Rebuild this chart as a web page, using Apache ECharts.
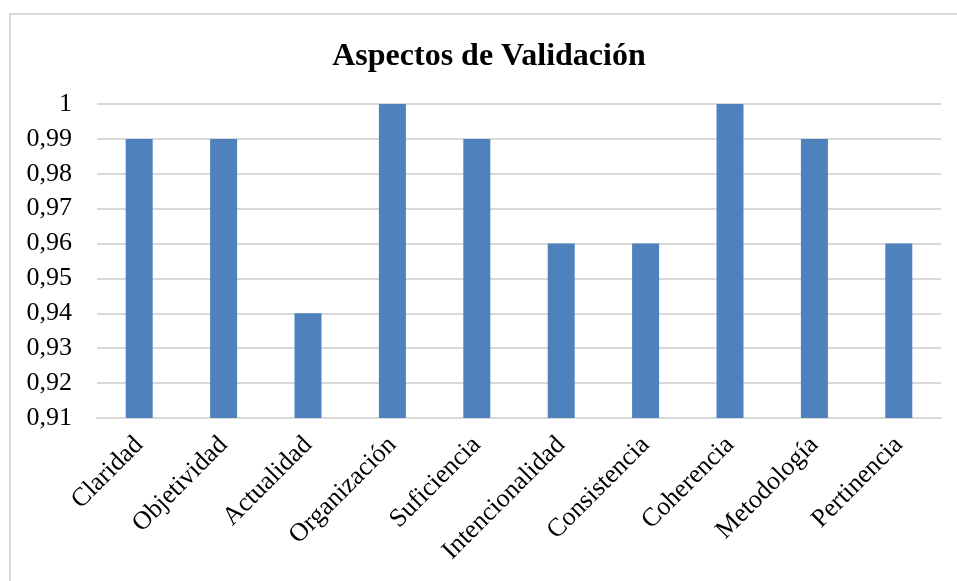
<!DOCTYPE html>
<html>
<head>
<meta charset="utf-8">
<script src="https://cdn.jsdelivr.net/npm/echarts@6/dist/echarts.min.js"></script>
<style>
  html, body { margin: 0; padding: 0; background: #fff; }
  #frame { position: absolute; left: 9px; top: 13px; width: 980px; height: 600px; border: 2px solid #d9d9d9; box-sizing: border-box; }
  #chart { position: absolute; left: 0; top: 0; width: 957px; height: 581px; }
</style>
</head>
<body>
<div id="frame"></div>
<div id="chart"></div>
<script>
// Validation aspects and their scores
const categories = ['Claridad', 'Objetividad', 'Actualidad', 'Organización', 'Suficiencia',
  'Intencionalidad', 'Consistencia', 'Coherencia', 'Metodología', 'Pertinencia'];
const scores = [0.99, 0.99, 0.94, 1.00, 0.99, 0.96, 0.96, 1.00, 0.99, 0.96];
const yMin = 0.91, yMax = 1.0, yStep = 0.01;

const serif = '"Liberation Serif", "Times New Roman", serif';
const chart = echarts.init(document.getElementById('chart'));
chart.setOption({
  animation: false,
  title: {
    text: 'Aspectos de Validación',
    left: 484, top: 36, textAlign: 'center',
    textStyle: { fontFamily: serif, fontSize: 32, fontWeight: 'bold', color: '#000' }
  },
  grid: { left: 97, right: 16, top: 104, bottom: 163, containLabel: false },
  xAxis: {
    type: 'category',
    data: categories,
    axisLine: { lineStyle: { color: '#d9d9d9', width: 2 } },
    axisTick: { show: false },
    axisLabel: {
      rotate: 45, interval: 0, margin: 23,
      fontFamily: serif, fontSize: 26, color: '#000'
    }
  },
  yAxis: {
    type: 'value',
    min: yMin, max: yMax, interval: yStep,
    axisLine: { show: false },
    axisTick: { show: false },
    splitLine: { lineStyle: { color: '#d9d9d9', width: 2 } },
    axisLabel: {
      margin: 25,
      fontFamily: serif, fontSize: 26, color: '#000',
      formatter: v => {
        const r = Math.round(v * 100) / 100;
        return r === 1 ? '1' : r.toFixed(2).replace('.', ',');
      }
    }
  },
  series: [{
    type: 'bar',
    data: scores,
    barWidth: '32%',
    itemStyle: { color: '#4f81bd' }
  }]
});
</script>
</body>
</html>
